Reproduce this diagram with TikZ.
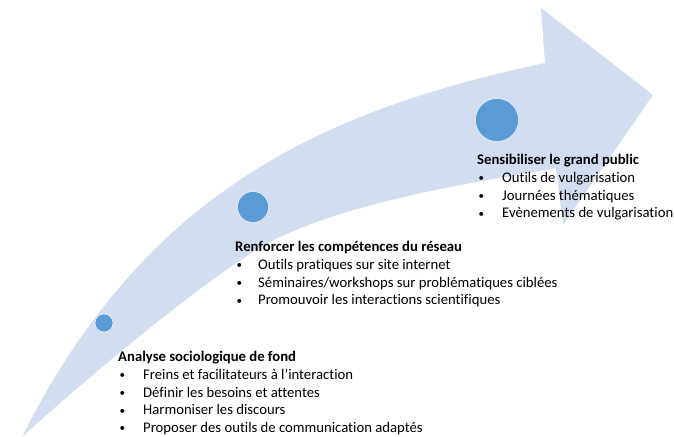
\documentclass[tikz,border=0pt]{standalone}
\usepackage{fontspec}
\usepackage{graphicx}
\setmainfont{Carlito}[Ligatures=NoCommon]
\definecolor{arrowfill}{RGB}{210,222,239}
\definecolor{dotfill}{RGB}{91,155,213}
\newcommand{\stagebullet}{\hspace{1.5pt}\raisebox{0.8pt}{\scalebox{0.75}{\textbullet}}}
\begin{document}
\begin{tikzpicture}[x=1pt,y=-1pt,
    dot/.style={circle,fill=dotfill,draw=white,line width=0.4pt,inner sep=0pt,minimum size=#1},
    block/.style={anchor=base west,inner sep=0pt,font=\fontsize{14.7}{17.8}\selectfont}]
  \useasboundingbox (0,0) rectangle (674,436);

  % curved arrow
  \fill[arrowfill] (22,437) .. controls (147,187) and (330,109) .. (545,63)
     -- (541,8) -- (653,95) -- (563,225) -- (556,168)
     .. controls (470,183) and (360,200) .. (280,237)
     .. controls (220,265) and (81,383) .. (22,437) -- cycle;

  % stages
  \node[dot=18pt] (d1) at (104,323) {};
  \node[dot=31pt] (d2) at (253,207) {};
  \node[dot=43pt] (d3) at (497,120) {};

  \node[block] (t1) at (118,361.5) {\begin{tabular}[t]{@{}p{25pt}@{}l@{}}
      \multicolumn{2}{@{}l@{}}{\bfseries Analyse sociologique de fond}\\
      \stagebullet & Freins et facilitateurs à l’interaction\\
      \stagebullet & Définir les besoins et attentes\\
      \stagebullet & Harmoniser les discours\\
      \stagebullet & Proposer des outils de communication adaptés
    \end{tabular}};

  \node[block] (t2) at (235,251.5) {\begin{tabular}[t]{@{}p{23pt}@{}l@{}}
      \multicolumn{2}{@{}l@{}}{\bfseries Renforcer les compétences du réseau}\\
      \stagebullet & Outils pratiques sur site internet\\
      \stagebullet & Séminaires/workshops sur problématiques ciblées\\
      \stagebullet & Promouvoir les interactions scientifiques
    \end{tabular}};

  \node[block] (t3) at (477,164.5) {\begin{tabular}[t]{@{}p{25pt}@{}l@{}}
      \multicolumn{2}{@{}l@{}}{\bfseries Sensibiliser le grand public}\\
      \stagebullet & Outils de vulgarisation\\
      \stagebullet & Journées thématiques\\
      \stagebullet & Evènements de vulgarisation
    \end{tabular}};
\end{tikzpicture}
\end{document}
